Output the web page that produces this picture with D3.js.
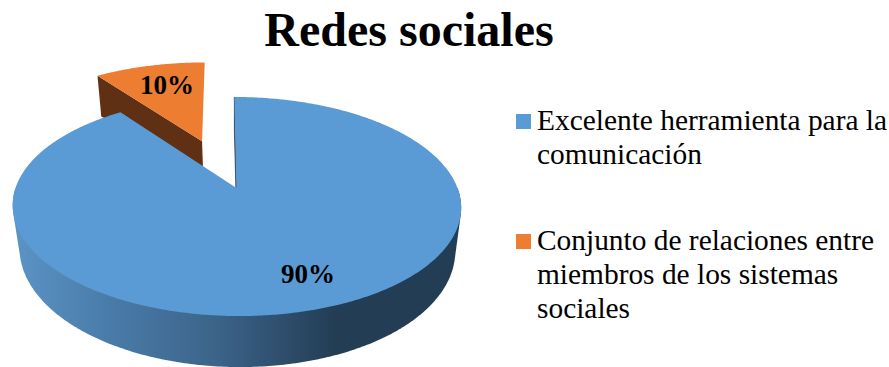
<!DOCTYPE html>
<html>
<head>
<meta charset="utf-8">
<script src="https://cdn.jsdelivr.net/npm/d3@7"></script>
<style>
  html, body { margin: 0; padding: 0; background: #fff; }
  text { font-family: "Liberation Serif", serif; fill: #000; }
</style>
</head>
<body>
<div id="chart"></div>
<script>
const categories = ["Excelente herramienta para la comunicación", "Conjunto de relaciones entre miembros de los sistemas sociales"];
const values = [90, 10];
const valueLabels = ["90%", "10%"];
const colors = ["#5b9bd5", "#ed7d31"];
const legendLines = [
  ["Excelente herramienta para la", "comunicación"],
  ["Conjunto de relaciones entre", "miembros de los sistemas", "sociales"]
];

const width = 889, height = 367;

// perspective of the top face and of the bottom face of the disc
const topFace = {cx: 236.5, cy: 188, rx: 221, ry: 106.4, k: 0.169, skew: 2.5};
const bottomFace = {cx: 236.5, cy: 211.5, rx: 206, ry: 105, k: 0.325, skew: 2.5};
// how far the small slice is pulled out, in disc units
const explode = {u: -0.163, v: -0.4745};

const svg = d3.select("#chart").append("svg")
  .attr("width", width)
  .attr("height", height)
  .style("display", "block");

const defs = svg.append("defs");
const sideGradient = defs.append("linearGradient")
  .attr("id", "side-blue")
  .attr("gradientUnits", "userSpaceOnUse")
  .attr("x1", 13).attr("x2", 461).attr("y1", 0).attr("y2", 0);
[[0, "#5b94c6"], [0.2, "#4a7dab"], [0.45, "#3c648a"], [0.72, "#233d55"], [1, "#233d55"]].forEach(s => {
  sideGradient.append("stop").attr("offset", s[0]).attr("stop-color", s[1]);
});

// disc coordinates to screen
function project(face, u, v) {
  const d = 1 - face.k * v;
  return [face.cx + (face.rx * u + face.skew * v) / d, face.cy + face.ry * v / d];
}

const pie = d3.pie().sort(null).startAngle(0).endAngle(2 * Math.PI);
const slices = pie(values);
const line = d3.line();

function rimPoint(face, angle, off) {
  return project(face, Math.sin(angle) + off.u, -Math.cos(angle) + off.v);
}

function arcAngles(a0, a1) {
  const n = Math.ceil((a1 - a0) / 0.01);
  return d3.range(n + 1).map(i => a0 + (a1 - a0) * i / n);
}

function topPath(s, off) {
  const pts = arcAngles(s.startAngle, s.endAngle).map(a => rimPoint(topFace, a, off));
  pts.push(project(topFace, off.u, off.v));
  return line(pts) + "Z";
}

// outline of the visible front wall, only the front half of the rim
function wallPath() {
  const angles = arcAngles(Math.PI / 2, 3 * Math.PI / 2);
  const pts = angles.map(a => rimPoint(topFace, a, none))
    .concat(angles.map(a => rimPoint(bottomFace, a, none)));
  return line(d3.polygonHull(pts)) + "Z";
}

// flat cut of a slice, the lower edge stays almost under the upper one in x
function cutPath(angle, off) {
  const drop = (p, q) => [topFace.cx + 0.973 * (p[0] - topFace.cx), q[1]];
  const apex = project(topFace, off.u, off.v);
  const rim = rimPoint(topFace, angle, off);
  return line([
    apex,
    rim,
    drop(rim, rimPoint(bottomFace, angle, off)),
    drop(apex, project(bottomFace, off.u, off.v))
  ]) + "Z";
}

const none = {u: 0, v: 0};
const big = slices[0], small = slices[1];

// small slice first, the big one overlaps it
svg.append("path").attr("d", cutPath(small.startAngle, explode)).attr("fill", "#5f3013");
svg.append("path").attr("d", topPath(small, explode)).attr("fill", colors[1]);

svg.append("path").attr("d", wallPath()).attr("fill", "url(#side-blue)");
svg.append("path").attr("d", cutPath(big.startAngle, none))
  .attr("fill", "#2b4a68").attr("stroke", "#2b4a68").attr("stroke-width", 0.8);
svg.append("path").attr("d", topPath(big, none)).attr("fill", colors[0]);

// value labels
svg.selectAll(".value-label")
  .data(valueLabels)
  .enter()
  .append("text")
  .attr("class", "value-label")
  .attr("x", (d, i) => i === 0 ? 308 : 167)
  .attr("y", (d, i) => i === 0 ? 283 : 94)
  .attr("text-anchor", "middle")
  .attr("font-size", 27)
  .attr("font-weight", "bold")
  .text(d => d);

svg.append("text")
  .attr("x", 409)
  .attr("y", 46)
  .attr("text-anchor", "middle")
  .attr("font-size", 48)
  .attr("font-weight", "bold")
  .text("Redes sociales");

// legend
const legendTop = [130, 250];
const legend = svg.selectAll(".legend")
  .data(categories)
  .enter()
  .append("g")
  .attr("class", "legend")
  .attr("transform", (d, i) => `translate(516,${legendTop[i]})`);

legend.append("rect")
  .attr("x", 0).attr("y", -16)
  .attr("width", 15).attr("height", 15)
  .attr("fill", (d, i) => colors[i]);

legend.each(function(d, i) {
  d3.select(this).selectAll("text")
    .data(legendLines[i])
    .enter()
    .append("text")
    .attr("x", 21)
    .attr("y", (t, j) => j * 34)
    .attr("font-size", 29.4)
    .text(t => t);
});
</script>
</body>
</html>
